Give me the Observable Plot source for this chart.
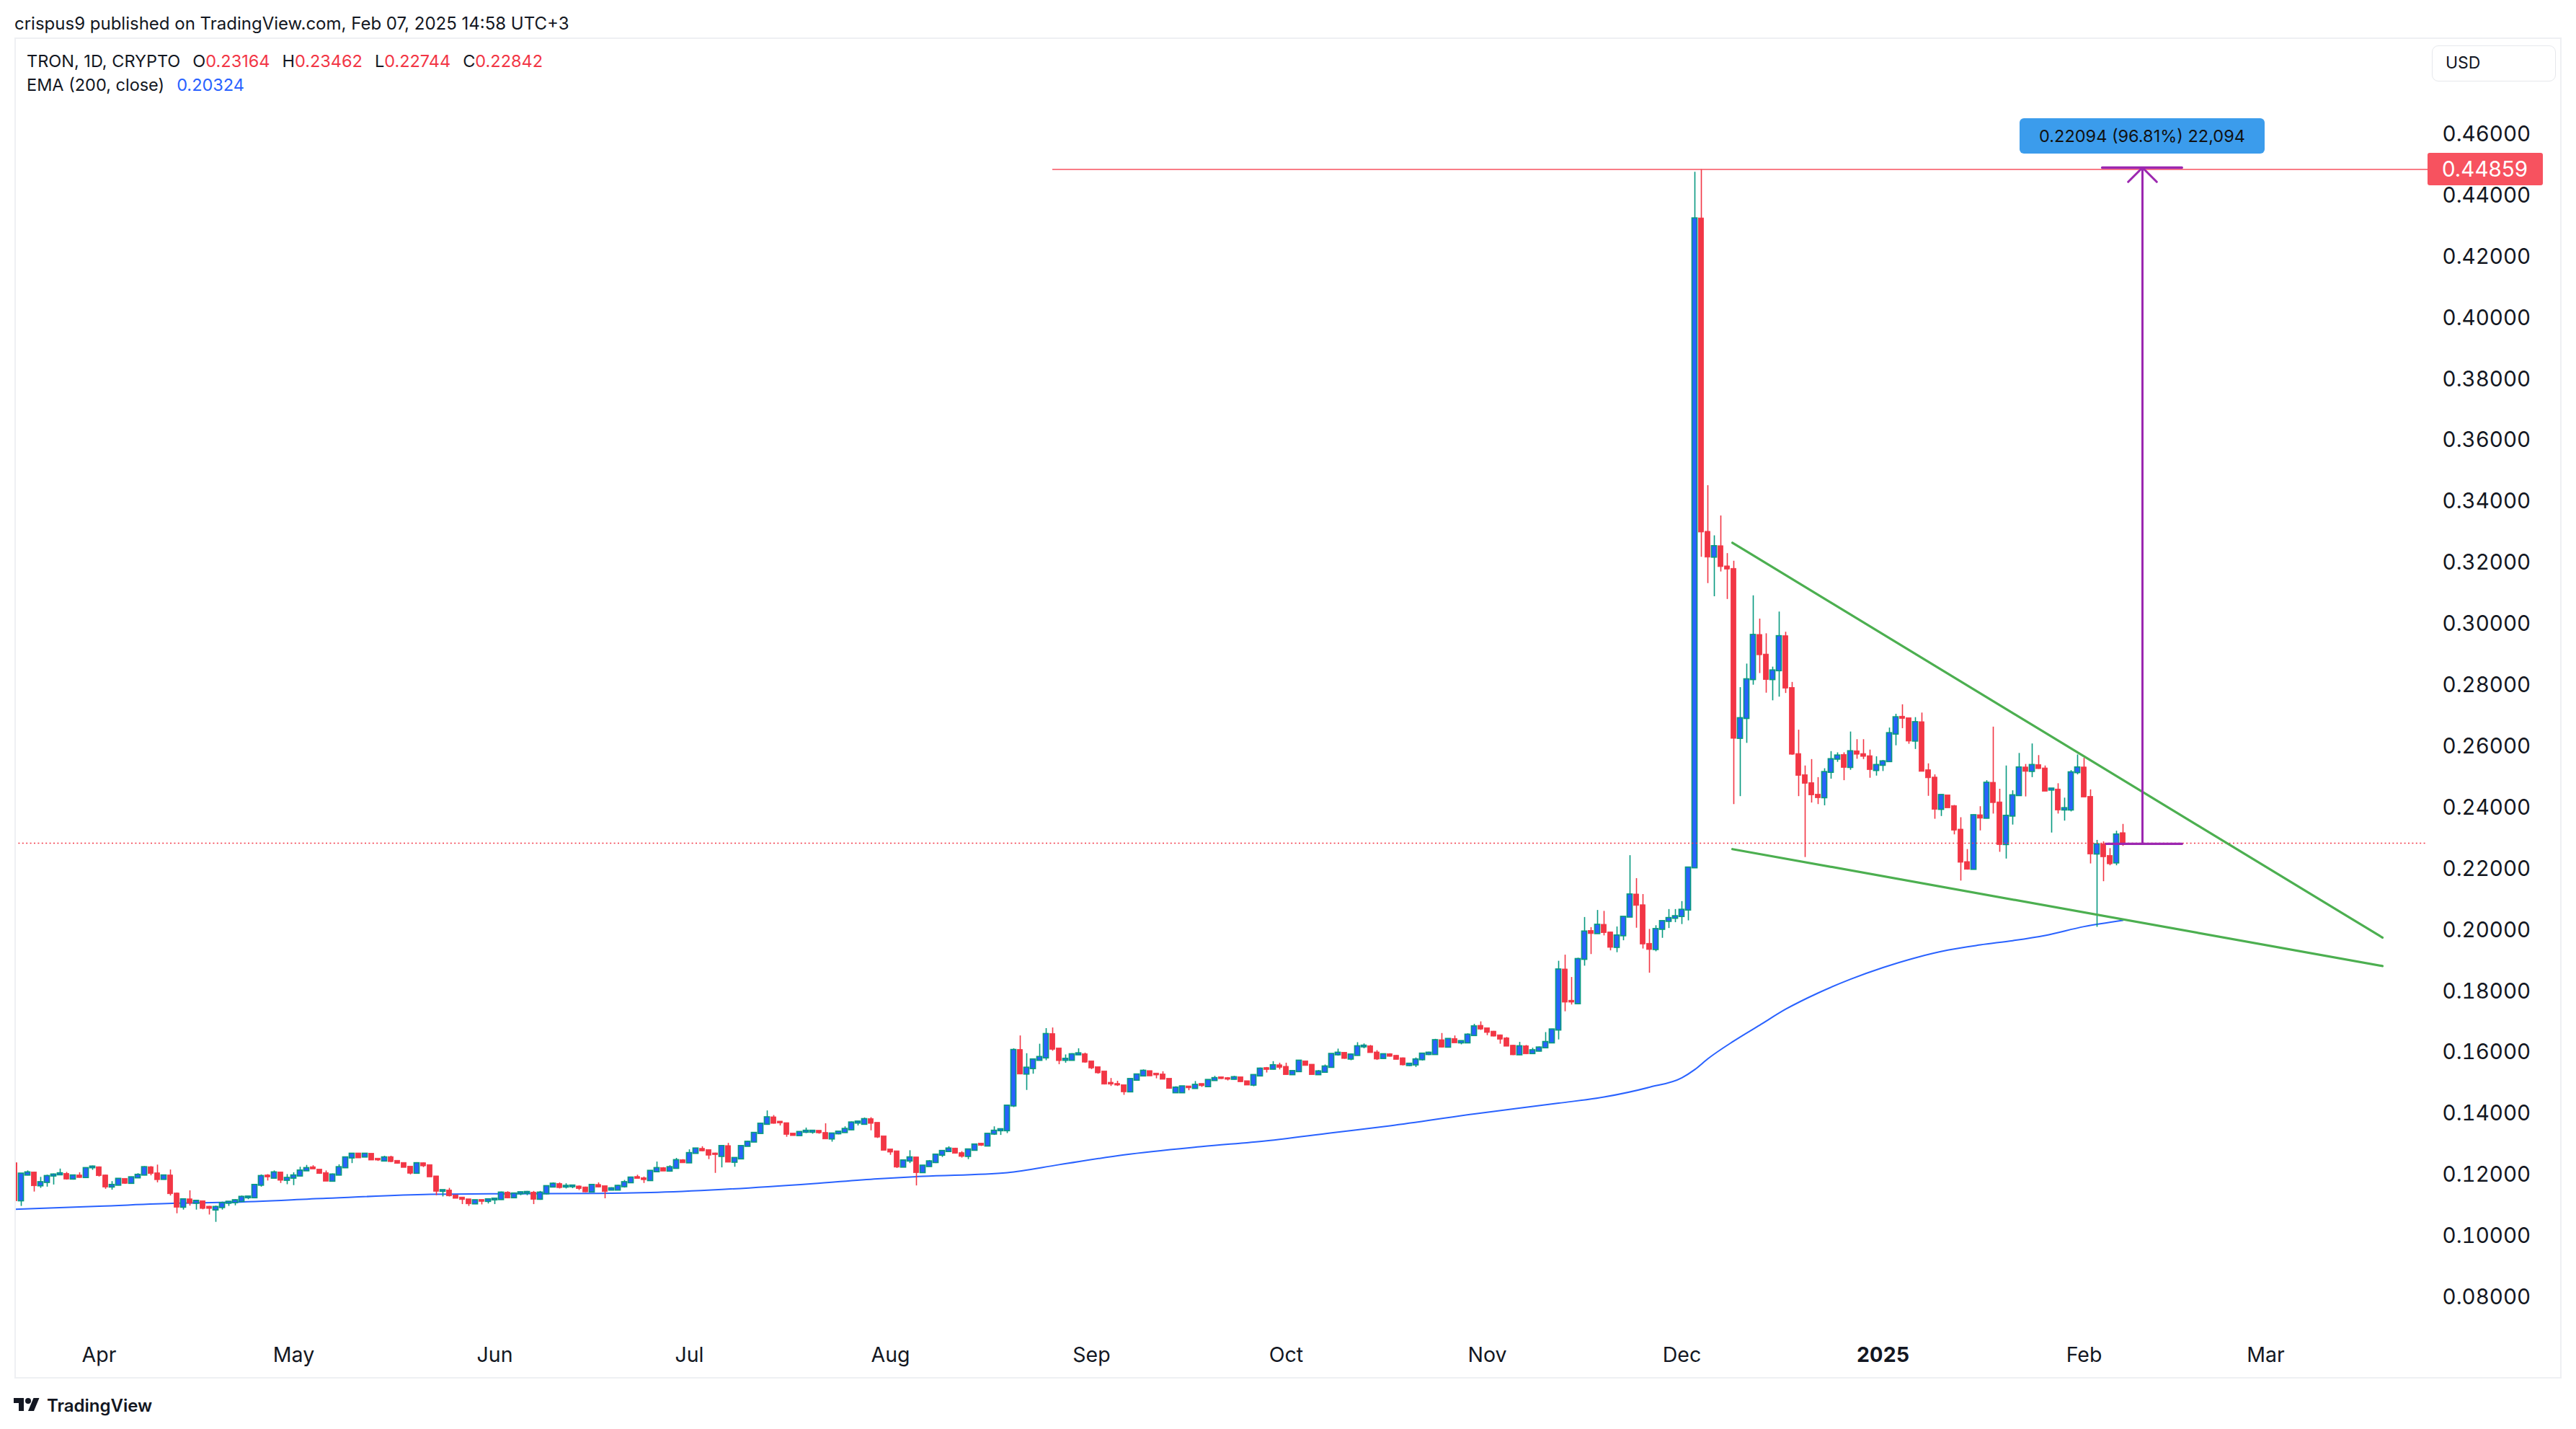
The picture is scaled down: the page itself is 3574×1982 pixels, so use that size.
<!DOCTYPE html>
<html>
<head>
<meta charset="utf-8">
<script src="https://cdn.jsdelivr.net/npm/d3@7"></script>
<script src="https://cdn.jsdelivr.net/npm/@observablehq/plot@0.6"></script>
<style>
html,body{margin:0;padding:0;background:#fff;width:3574px;height:1982px;overflow:hidden;font-family:Inter,"Noto Sans",sans-serif;color:#131722}
#root{position:relative;width:3574px;height:1982px}
#chart{position:absolute;left:0;top:0}
.frame{position:absolute;left:20px;top:52px;width:3534px;height:1860px;border:2px solid #eef0f3;box-sizing:border-box;pointer-events:none}
.txt{position:absolute;white-space:nowrap;line-height:28px}
#pub{left:20px;top:19px;font-size:24px}
#leg1{left:37px;top:71px;font-size:23.5px}
#leg2{left:37px;top:104px;font-size:23.5px}
.gap{margin-left:17px}
.red{color:#f23645}
.blue{color:#2962ff}
#usd{position:absolute;left:3374px;top:63px;width:172px;height:50px;border:1.5px solid #e6e8ec;border-radius:9px;box-sizing:border-box;font-size:23px;line-height:47px;padding-left:18px}
#foot{position:absolute;left:19px;top:1934px;height:30px;display:flex;align-items:center;font-size:24px;font-weight:600;color:#131722}
#foot svg{margin-right:10px}
</style>
</head>
<body>
<div id="root">
  <div id="chart"></div>
  <div class="frame"></div>
  <div id="pub" class="txt">crispus9 published on TradingView.com, Feb 07, 2025 14:58 UTC+3</div>
  <div id="leg1" class="txt"></div>
  <div id="leg2" class="txt"></div>
  <div id="usd">USD</div>
  <div id="foot"><svg width="36" height="28" viewBox="0 0 36 28"><path fill="#131722" d="M14 22H7V11H0V4h14v18zM28 22h-8l7.5-18h8L28 22z"/><circle fill="#131722" cx="20" cy="8" r="4"/></svg><span>TradingView</span></div>
</div>
<script>
// ---- Daily OHLC (open, high, low, close) of TRON, one array per month ----
const mar24 = [
[0.1238,0.1240,0.1100,0.1116],[0.1116,0.1204,0.1098,0.1204],[0.1200,0.1214,0.1198,0.1208],[0.1208,0.1210,0.1145,0.1165],
[0.1165,0.1193,0.1157,0.1176],[0.1176,0.1200,0.1161,0.1196],[0.1197,0.1204,0.1168,0.1201],[0.1201,0.1220,0.1201,0.1205],
[0.1203,0.1209,0.1184,0.1187],[0.1187,0.1200,0.1184,0.1198],[0.1198,0.1208,0.1190,0.1192],[0.1192,0.1224,0.1192,0.1222],
[0.1224,0.1230,0.1216,0.1227]];
const apr24 = [
[0.1225,0.1227,0.1194,0.1198],[0.1198,0.1200,0.1154,0.1161],[0.1161,0.1179,0.1151,0.1167],[0.1167,0.1187,0.1165,0.1187],
[0.1187,0.1188,0.1170,0.1173],[0.1173,0.1194,0.1173,0.1192],[0.1191,0.1205,0.1191,0.1200],[0.1200,0.1228,0.1198,0.1225],
[0.1225,0.1228,0.1198,0.1205],[0.1205,0.1233,0.1175,0.1185],[0.1186,0.1200,0.1184,0.1198],[0.1198,0.1217,0.1132,0.1139],
[0.1139,0.1142,0.1074,0.1095],[0.1095,0.1123,0.1086,0.1120],[0.1120,0.1149,0.1099,0.1108],[0.1108,0.1115,0.1086,0.1115],
[0.1114,0.1114,0.1087,0.1091],[0.1096,0.1098,0.1070,0.1091],[0.1086,0.1099,0.1046,0.1095],[0.1094,0.1112,0.1086,0.1108],
[0.1108,0.1112,0.1098,0.1112],[0.1110,0.1120,0.1100,0.1117],[0.1114,0.1132,0.1114,0.1128],[0.1126,0.1131,0.1120,0.1129],
[0.1126,0.1170,0.1124,0.1167],[0.1167,0.1201,0.1161,0.1196],[0.1198,0.1202,0.1181,0.1194],[0.1190,0.1214,0.1189,0.1208],
[0.1208,0.1210,0.1173,0.1183],[0.1183,0.1202,0.1169,0.1190]];
const may24 = [
[0.1190,0.1208,0.1166,0.1198],[0.1197,0.1226,0.1195,0.1214],[0.1214,0.1232,0.1214,0.1222],[0.1225,0.1231,0.1220,0.1220],
[0.1217,0.1217,0.1203,0.1205],[0.1206,0.1214,0.1180,0.1180],[0.1180,0.1204,0.1178,0.1201],[0.1200,0.1234,0.1198,0.1225],
[0.1224,0.1258,0.1222,0.1257],[0.1256,0.1271,0.1238,0.1269],[0.1270,0.1271,0.1255,0.1256],[0.1259,0.1269,0.1259,0.1269],
[0.1269,0.1269,0.1249,0.1249],[0.1253,0.1253,0.1245,0.1249],[0.1246,0.1262,0.1246,0.1257],[0.1258,0.1262,0.1241,0.1244],
[0.1246,0.1246,0.1236,0.1238],[0.1239,0.1239,0.1225,0.1225],[0.1227,0.1227,0.1201,0.1206],[0.1206,0.1241,0.1205,0.1238],
[0.1238,0.1240,0.1225,0.1230],[0.1232,0.1232,0.1194,0.1194],[0.1195,0.1195,0.1133,0.1147],[0.1147,0.1150,0.1129,0.1150],
[0.1149,0.1157,0.1129,0.1132],[0.1133,0.1134,0.1123,0.1124],[0.1126,0.1126,0.1104,0.1120],[0.1120,0.1120,0.1098,0.1106],
[0.1106,0.1117,0.1104,0.1117],[0.1118,0.1118,0.1103,0.1114],[0.1114,0.1121,0.1106,0.1120]];
const jun24 = [
[0.1119,0.1122,0.1104,0.1122],[0.1120,0.1145,0.1118,0.1142],[0.1142,0.1146,0.1123,0.1125],[0.1126,0.1142,0.1126,0.1139],
[0.1139,0.1145,0.1133,0.1143],[0.1141,0.1147,0.1133,0.1144],[0.1142,0.1147,0.1104,0.1121],[0.1121,0.1147,0.1118,0.1142],
[0.1139,0.1165,0.1136,0.1163],[0.1161,0.1175,0.1159,0.1171],[0.1170,0.1175,0.1155,0.1159],[0.1161,0.1172,0.1155,0.1164],
[0.1162,0.1165,0.1156,0.1165],[0.1162,0.1165,0.1150,0.1156],[0.1159,0.1161,0.1143,0.1145],[0.1145,0.1169,0.1145,0.1167],
[0.1167,0.1175,0.1159,0.1161],[0.1163,0.1164,0.1123,0.1146],[0.1151,0.1159,0.1150,0.1156],[0.1151,0.1167,0.1150,0.1164],
[0.1162,0.1183,0.1158,0.1176],[0.1175,0.1194,0.1175,0.1191],[0.1193,0.1200,0.1189,0.1189],[0.1189,0.1194,0.1173,0.1185],
[0.1182,0.1215,0.1181,0.1213],[0.1211,0.1243,0.1209,0.1222],[0.1222,0.1225,0.1213,0.1213],[0.1213,0.1231,0.1210,0.1225],
[0.1222,0.1255,0.1222,0.1248],[0.1248,0.1251,0.1240,0.1240]];
const jul24 = [
[0.1240,0.1283,0.1240,0.1271],[0.1271,0.1288,0.1271,0.1286],[0.1285,0.1293,0.1277,0.1279],[0.1281,0.1282,0.1251,0.1265],
[0.1270,0.1272,0.1206,0.1267],[0.1261,0.1297,0.1224,0.1294],[0.1294,0.1304,0.1242,0.1242],[0.1242,0.1255,0.1226,0.1255],
[0.1253,0.1296,0.1253,0.1294],[0.1294,0.1311,0.1293,0.1308],[0.1308,0.1338,0.1307,0.1337],[0.1336,0.1370,0.1334,0.1367],
[0.1366,0.1410,0.1365,0.1388],[0.1388,0.1395,0.1367,0.1369],[0.1374,0.1375,0.1361,0.1370],[0.1369,0.1369,0.1324,0.1333],
[0.1335,0.1335,0.1329,0.1329],[0.1329,0.1341,0.1329,0.1340],[0.1340,0.1354,0.1336,0.1344],[0.1340,0.1344,0.1334,0.1344],
[0.1344,0.1344,0.1334,0.1338],[0.1337,0.1368,0.1318,0.1318],[0.1318,0.1337,0.1308,0.1335],[0.1335,0.1341,0.1332,0.1341],
[0.1339,0.1358,0.1337,0.1350],[0.1348,0.1374,0.1346,0.1371],[0.1370,0.1374,0.1361,0.1374],[0.1366,0.1387,0.1364,0.1382],
[0.1382,0.1388,0.1345,0.1369],[0.1370,0.1370,0.1320,0.1324],[0.1326,0.1326,0.1281,0.1281]];
const aug24 = [
[0.1283,0.1283,0.1265,0.1275],[0.1277,0.1277,0.1222,0.1226],[0.1226,0.1249,0.1226,0.1247],[0.1246,0.1280,0.1238,0.1257],
[0.1257,0.1257,0.1165,0.1208],[0.1208,0.1232,0.1208,0.1230],[0.1228,0.1248,0.1228,0.1244],[0.1241,0.1269,0.1238,0.1266],
[0.1265,0.1280,0.1258,0.1278],[0.1277,0.1293,0.1277,0.1286],[0.1286,0.1288,0.1269,0.1271],[0.1271,0.1277,0.1256,0.1261],
[0.1261,0.1285,0.1251,0.1283],[0.1281,0.1301,0.1281,0.1299],[0.1302,0.1304,0.1294,0.1297],[0.1295,0.1336,0.1293,0.1334],
[0.1334,0.1358,0.1330,0.1344],[0.1345,0.1351,0.1330,0.1349],[0.1345,0.1428,0.1336,0.1426],[0.1426,0.1613,0.1421,0.1608],
[0.1608,0.1655,0.1528,0.1530],[0.1530,0.1597,0.1477,0.1550],[0.1548,0.1578,0.1530,0.1577],[0.1575,0.1628,0.1575,0.1585],
[0.1583,0.1679,0.1574,0.1660],[0.1660,0.1681,0.1605,0.1611],[0.1613,0.1613,0.1561,0.1574],[0.1575,0.1593,0.1566,0.1579],
[0.1575,0.1597,0.1575,0.1594],[0.1593,0.1613,0.1591,0.1597],[0.1594,0.1599,0.1566,0.1569]];
const sep24 = [
[0.1571,0.1571,0.1545,0.1550],[0.1552,0.1552,0.1530,0.1534],[0.1538,0.1538,0.1495,0.1497],[0.1501,0.1516,0.1490,0.1497],
[0.1497,0.1507,0.1490,0.1494],[0.1493,0.1493,0.1461,0.1472],[0.1472,0.1515,0.1472,0.1513],[0.1510,0.1530,0.1508,0.1528],
[0.1524,0.1544,0.1523,0.1540],[0.1539,0.1539,0.1523,0.1524],[0.1531,0.1531,0.1515,0.1527],[0.1528,0.1538,0.1513,0.1513],
[0.1514,0.1514,0.1481,0.1483],[0.1469,0.1489,0.1467,0.1485],[0.1469,0.1490,0.1468,0.1489],[0.1489,0.1490,0.1476,0.1485],
[0.1483,0.1506,0.1481,0.1494],[0.1497,0.1497,0.1487,0.1492],[0.1489,0.1511,0.1487,0.1510],[0.1509,0.1523,0.1507,0.1516],
[0.1519,0.1520,0.1513,0.1515],[0.1516,0.1519,0.1508,0.1513],[0.1513,0.1523,0.1511,0.1519],[0.1519,0.1520,0.1503,0.1505],
[0.1506,0.1506,0.1494,0.1494],[0.1494,0.1528,0.1489,0.1526],[0.1524,0.1550,0.1523,0.1547],[0.1549,0.1552,0.1534,0.1545],
[0.1546,0.1571,0.1544,0.1558],[0.1558,0.1566,0.1544,0.1552]];
const oct24 = [
[0.1553,0.1566,0.1527,0.1528],[0.1528,0.1541,0.1527,0.1539],[0.1538,0.1574,0.1536,0.1573],[0.1571,0.1571,0.1558,0.1558],
[0.1560,0.1560,0.1528,0.1528],[0.1528,0.1542,0.1527,0.1538],[0.1536,0.1560,0.1534,0.1554],[0.1552,0.1596,0.1552,0.1595],
[0.1593,0.1612,0.1589,0.1599],[0.1599,0.1600,0.1579,0.1581],[0.1579,0.1596,0.1574,0.1593],[0.1591,0.1633,0.1589,0.1620],
[0.1619,0.1629,0.1613,0.1622],[0.1620,0.1624,0.1599,0.1600],[0.1600,0.1607,0.1575,0.1579],[0.1581,0.1594,0.1579,0.1594],
[0.1594,0.1597,0.1586,0.1588],[0.1589,0.1591,0.1577,0.1578],[0.1581,0.1583,0.1557,0.1560],[0.1558,0.1564,0.1555,0.1563],
[0.1560,0.1583,0.1552,0.1577],[0.1577,0.1596,0.1573,0.1596],[0.1594,0.1602,0.1591,0.1599],[0.1594,0.1644,0.1593,0.1640],
[0.1640,0.1663,0.1616,0.1618],[0.1618,0.1646,0.1616,0.1644],[0.1644,0.1655,0.1632,0.1632],[0.1632,0.1637,0.1626,0.1637],
[0.1632,0.1662,0.1630,0.1658],[0.1656,0.1693,0.1654,0.1685],[0.1687,0.1701,0.1673,0.1677]];
const nov24 = [
[0.1679,0.1679,0.1656,0.1666],[0.1668,0.1670,0.1652,0.1654],[0.1656,0.1658,0.1628,0.1644],[0.1646,0.1650,0.1620,0.1621],
[0.1622,0.1624,0.1591,0.1593],[0.1593,0.1634,0.1591,0.1620],[0.1620,0.1624,0.1594,0.1596],[0.1597,0.1615,0.1597,0.1607],
[0.1605,0.1619,0.1603,0.1616],[0.1616,0.1666,0.1614,0.1634],[0.1632,0.1677,0.1630,0.1675],[0.1674,0.1899,0.1642,0.1871],
[0.1871,0.1919,0.1734,0.1765],[0.1769,0.1846,0.1756,0.1765],[0.1760,0.1909,0.1758,0.1905],[0.1905,0.2042,0.1883,0.1995],
[0.1997,0.2009,0.1921,0.1989],[0.1989,0.2065,0.1989,0.2017],[0.2017,0.2062,0.1982,0.1992],[0.1992,0.1994,0.1933,0.1944],
[0.1944,0.2011,0.1927,0.1982],[0.1982,0.2043,0.1966,0.2043],[0.2043,0.2244,0.2043,0.2116],[0.2116,0.2169,0.2007,0.2081],
[0.2081,0.2117,0.1939,0.1955],[0.1955,0.2003,0.1860,0.1937],[0.1937,0.2015,0.1930,0.2003],[0.2003,0.2032,0.1974,0.2029],
[0.2029,0.2068,0.2006,0.2039],[0.2039,0.2068,0.2025,0.2045]];
const dec24 = [
[0.2045,0.2094,0.2019,0.2066],[0.2066,0.2204,0.2031,0.2204],[0.2204,0.4477,0.2204,0.4325],[0.4325,0.44859,0.3219,0.3301],
[0.3301,0.3453,0.3133,0.3219],[0.3219,0.3289,0.3090,0.3254],[0.3254,0.3354,0.3171,0.3188],[0.3188,0.3231,0.3081,0.3180],
[0.3180,0.3206,0.2411,0.2627],[0.2627,0.2793,0.2437,0.2692],[0.2692,0.2870,0.2611,0.2819],[0.2819,0.3093,0.2801,0.2964],
[0.2964,0.3017,0.2839,0.2900],[0.2900,0.2969,0.2775,0.2819],[0.2819,0.2860,0.2750,0.2848],[0.2848,0.3040,0.2762,0.2960],
[0.2960,0.2974,0.2774,0.2791],[0.2791,0.2810,0.2572,0.2575],[0.2575,0.2654,0.2437,0.2506],[0.2506,0.2537,0.2238,0.2480],
[0.2480,0.2558,0.2416,0.2442],[0.2442,0.2499,0.2411,0.2433],[0.2433,0.2528,0.2407,0.2516],[0.2516,0.2584,0.2494,0.2558],
[0.2559,0.2580,0.2549,0.2570],[0.2572,0.2580,0.2489,0.2532],[0.2532,0.2648,0.2523,0.2584],[0.2584,0.2623,0.2559,0.2575],
[0.2575,0.2623,0.2558,0.2568],[0.2568,0.2589,0.2497,0.2525],[0.2522,0.2567,0.2504,0.2539]];
const jan25 = [
[0.2539,0.2555,0.2519,0.2551],[0.2551,0.2661,0.2549,0.2643],[0.2641,0.2706,0.2603,0.2695],[0.2697,0.2737,0.2659,0.2692],
[0.2692,0.2692,0.2608,0.2618],[0.2618,0.2695,0.2591,0.2679],[0.2679,0.2710,0.2519,0.2519],[0.2522,0.2544,0.2438,0.2498],
[0.2498,0.2508,0.2363,0.2395],[0.2395,0.2443,0.2372,0.2441],[0.2440,0.2440,0.2400,0.2400],[0.2405,0.2408,0.2312,0.2327],
[0.2328,0.2368,0.2161,0.2222],[0.2222,0.2264,0.2197,0.2199],[0.2199,0.2377,0.2199,0.2375],[0.2375,0.2404,0.2325,0.2366],
[0.2366,0.2489,0.2364,0.2481],[0.2481,0.2664,0.2380,0.2417],[0.2417,0.2461,0.2255,0.2280],[0.2280,0.2537,0.2233,0.2373],
[0.2373,0.2456,0.2344,0.2440],[0.2440,0.2578,0.2438,0.2531],[0.2531,0.2542,0.2436,0.2519],[0.2519,0.2609,0.2499,0.2539],
[0.2539,0.2571,0.2526,0.2528],[0.2528,0.2537,0.2454,0.2454],[0.2458,0.2463,0.2318,0.2462],[0.2459,0.2479,0.2380,0.2393],
[0.2393,0.2432,0.2357,0.2398],[0.2393,0.2522,0.2387,0.2515],[0.2515,0.2573,0.2508,0.2531]];
const feb25 = [
[0.2531,0.2562,0.2434,0.2435],[0.2435,0.2459,0.2217,0.2249],[0.2249,0.2294,0.2010,0.2280],[0.2280,0.2289,0.2159,0.2240],
[0.2242,0.2267,0.2211,0.2217],[0.2220,0.2324,0.2211,0.2312],[0.23164,0.23462,0.22744,0.22842]];
const firstDay = "2024-03-19";

// ---- EMA (200, close) ----
const emaDates = ["2024-03-19","2024-04-01","2024-04-13","2024-04-21","2024-05-06","2024-05-22","2024-06-03","2024-06-17","2024-06-25",
"2024-07-06","2024-07-20","2024-07-30","2024-08-06","2024-08-19","2024-08-27","2024-09-06","2024-09-18","2024-09-28","2024-10-08",
"2024-10-17","2024-10-30","2024-11-12","2024-11-19","2024-11-26","2024-12-01","2024-12-03","2024-12-05","2024-12-09","2024-12-13",
"2024-12-17","2024-12-22","2024-12-27","2025-01-01","2025-01-06","2025-01-11","2025-01-16","2025-01-21","2025-01-26","2025-02-01","2025-02-07"];
const emaValues = [0.1088,0.1098,0.1108,0.1111,0.1124,0.1137,0.1139,0.1140,0.1143,
0.1153,0.1172,0.1188,0.1196,0.1208,0.1234,0.1266,0.1293,0.1312,0.1338,
0.1361,0.1400,0.1435,0.1455,0.1487,0.1518,0.1545,0.1580,0.1638,0.1690,
0.1742,0.1795,0.1840,0.1878,0.1910,0.1935,0.1952,0.1966,0.1983,0.2012,0.20324];

// ---- Drawings ----
const trendX1 = ["2024-12-08T19:00:00Z","2024-12-08T19:00:00Z"];
const trendY1 = [0.3266, 0.2265];
const trendX2 = ["2025-03-19T00:00:00Z","2025-03-19T00:00:00Z"];
const trendY2 = [0.1976, 0.1883];
const highLevel = 0.44859, highLevelFrom = "2024-08-26";
const measureX = "2025-02-10T00:00:00Z", measureFrom = 0.22822, measureTo = 0.44916;
const measureLeft = ["2025-02-03T19:00:00Z","2025-02-04T10:00:00Z"], measureRight = "2025-02-16T02:00:00Z";
const measureLabel = "0.22094 (96.81%) 22,094";

// ---- Axes ----
const priceTicks = [0.08,0.10,0.12,0.14,0.16,0.18,0.20,0.22,0.24,0.26,0.28,0.30,0.32,0.34,0.36,0.38,0.40,0.42,0.44,0.46];
const monthTicks = ["2024-04-01","2024-05-01","2024-06-01","2024-07-01","2024-08-01","2024-09-01","2024-10-01","2024-11-01","2024-12-01","2025-01-01","2025-02-01","2025-03-01"];
const monthLabels = ["Apr","May","Jun","Jul","Aug","Sep","Oct","Nov","Dec","2025","Feb","Mar"];
const xDomain = ["2024-03-19","2025-03-26"];
const yDomain = [0.06919, 0.49133];

// ---- build ----
const DAY = 86400000;
const t0 = Date.parse(firstDay + "T00:00:00Z");
const rows = [mar24,apr24,may24,jun24,jul24,aug24,sep24,oct24,nov24,dec24,jan25,feb25].flat();
const candles = rows.map(([o,h,l,c], i) => {
  const t = t0 + i * DAY;
  return {date: new Date(t), x1: new Date(t - 0.39*DAY), x2: new Date(t + 0.39*DAY), open:o, high:h, low:l, close:c, up: c >= o};
});
const ups = candles.filter(d => d.up), downs = candles.filter(d => !d.up);
const ema = emaDates.map((d,i) => ({date: new Date(d + "T00:00:00Z"), value: emaValues[i]}));
const trends = trendX1.map((d,i) => ({x1: new Date(d), y1: trendY1[i], x2: new Date(trendX2[i]), y2: trendY2[i]}));
const measureLines = [
  {x1: new Date(measureLeft[0]), x2: new Date(measureRight), y: measureTo},
  {x1: new Date(measureLeft[1]), x2: new Date(measureRight), y: measureFrom}];
const last = candles[candles.length-1];
const tickDates = monthTicks.map(d => new Date(d + "T00:00:00Z"));
const labelOf = new Map(tickDates.map((d,i) => [+d, monthLabels[i]]));
const xStart = new Date(xDomain[0] + "T00:00:00Z"), xEnd = new Date(xDomain[1] + "T00:00:00Z");

const chart = Plot.plot({
  width: 3574, height: 1982,
  marginLeft: 20, marginRight: 206, marginTop: 53, marginBottom: 137,
  style: {fontFamily: "Inter, 'Noto Sans', sans-serif", background: "transparent", color: "#131722", overflow: "visible"},
  x: {type: "utc", domain: [xStart, xEnd]},
  y: {domain: yDomain},
  marks: [
    Plot.axisY({anchor: "right", ticks: priceTicks, tickFormat: d => d.toFixed(5), tickSize: 0, tickPadding: 20, fontSize: 29.5, label: null, fill: "#131722"}),
    Plot.axisX({ticks: tickDates, tickFormat: d => labelOf.get(+d), tickSize: 0, tickPadding: 23, fontSize: 28.5, label: null, fill: "#131722"}),
    Plot.line(ema, {x: "date", y: "value", stroke: "#2962ff", strokeWidth: 2, curve: "monotone-x", clip: true}),
    Plot.ruleX(downs, {x: "date", y1: "low", y2: "high", stroke: "#f23645", strokeWidth: 1.6, clip: true}),
    Plot.ruleX(ups, {x: "date", y1: "low", y2: "high", stroke: "#089981", strokeWidth: 1.6, clip: true}),
    Plot.rect(downs, {x1: "x1", x2: "x2", y1: "open", y2: "close", fill: "#f23645", stroke: "#f23645", strokeWidth: 0.8, insetTop: -0.5, insetBottom: -0.5, clip: true}),
    Plot.rect(ups, {x1: "x1", x2: "x2", y1: "open", y2: "close", fill: "#2962ff", stroke: "#089981", strokeWidth: 1.7, insetTop: -0.5, insetBottom: -0.5, clip: true}),
    Plot.ruleY([last.close], {stroke: "#f23645", strokeWidth: 1.6, strokeDasharray: "2,3.4"}),
    Plot.ruleY([highLevel], {x1: new Date(highLevelFrom + "T00:00:00Z"), x2: xEnd, stroke: "#f7525f", strokeWidth: 1.5}),
    Plot.link(trends, {x1: "x1", y1: "y1", x2: "x2", y2: "y2", stroke: "#4caf50", strokeWidth: 3.2, strokeLinecap: "round"}),
    Plot.link(measureLines, {x1: "x1", x2: "x2", y1: "y", y2: "y", stroke: "#9c27b0", strokeWidth: 3.4, strokeLinecap: "round"}),
    Plot.arrow([{x: new Date(measureX), y1: measureFrom, y2: measureTo}], {x1: "x", x2: "x", y1: "y1", y2: "y2", stroke: "#9c27b0", strokeWidth: 3, headLength: 14, headAngle: 90, strokeLinecap: "round"})
  ]
});
document.getElementById("chart").appendChild(chart);

const svg = d3.select(chart);
svg.selectAll("text").filter(function(){ return this.textContent === "2025"; }).attr("font-weight", 700);
const xs = chart.scale("x"), ys = chart.scale("y");
const plotRight = 3574 - 206;
// price label of the horizontal level
const hy = ys.apply(highLevel);
const g = svg.append("g");
g.append("rect").attr("x", plotRight).attr("y", hy - 22.5).attr("width", 160).attr("height", 45).attr("rx", 3).attr("fill", "#f7525f");
g.append("text").attr("x", plotRight + 20).attr("y", hy).attr("dy", "0.36em").attr("text-anchor", "start").attr("font-size", 29.5).attr("fill", "#fff").text(highLevel.toFixed(5));
// measure label
const mx = xs.apply(new Date(measureX)), my = ys.apply(measureTo);
g.append("rect").attr("x", mx - 170).attr("y", my - 68).attr("width", 340).attr("height", 49).attr("rx", 6).attr("fill", "#3b9cec");
g.append("text").attr("x", mx).attr("y", my - 43.5).attr("dy", "0.36em").attr("text-anchor", "middle").attr("font-size", 23.5).attr("fill", "#111").text(measureLabel);

// legends
const fmt = v => v.toFixed(5);
document.getElementById("leg1").innerHTML =
  `TRON, 1D, CRYPTO<span class="gap">O</span><span class="red">${fmt(last.open)}</span>` +
  `<span class="gap">H</span><span class="red">${fmt(last.high)}</span>` +
  `<span class="gap">L</span><span class="red">${fmt(last.low)}</span>` +
  `<span class="gap">C</span><span class="red">${fmt(last.close)}</span>`;
document.getElementById("leg2").innerHTML = `EMA (200, close)<span class="gap blue">${fmt(emaValues[emaValues.length-1])}</span>`;
</script>
</body>
</html>
